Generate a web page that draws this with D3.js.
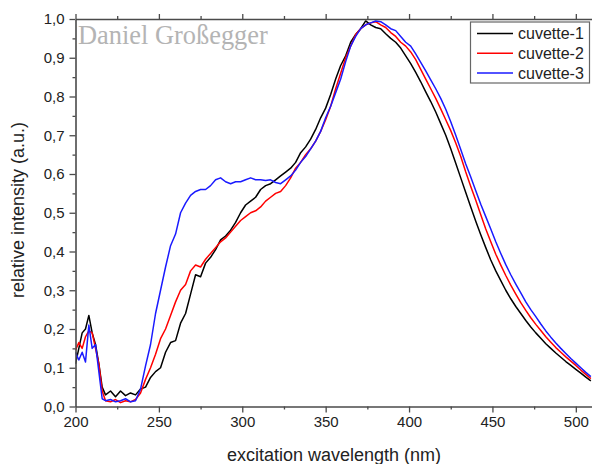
<!DOCTYPE html>
<html>
<head>
<meta charset="utf-8">
<script src="https://cdn.jsdelivr.net/npm/d3@7"></script>
<style>
  html, body { margin: 0; padding: 0; background: #fff; }
  svg { display: block; }
</style>
</head>
<body>
<svg id="chart" width="592" height="464"></svg>
<script>
// Excitation wavelength grid (nm)
const wavelengths = [200,202,204,206,208,210,212,214,216,218,
  221,224,227,230,233,236,239,242,245,248,251,254,257,260,263,266,269,272,275,278,
  281,284,287,290,293,296,299,302,305,308,311,314,317,320,323,326,329,332,335,338,
  341,344,347,350,353,356,359,362,365,368,371,374,377,380,383,386,389,392,395,398,
  401,404,407,410,413,416,419,422,425,428,431,434,437,440,443,446,449,452,455,458,
  461,464,467,470,473,476,479,482,485,488,491,494,497,500,503,506,509];

// Relative intensity per cuvette
const cuvette1 = [0.110,0.150,0.190,0.200,0.235,0.190,0.160,0.110,0.050,0.030,
  0.040,0.025,0.040,0.028,0.035,0.030,0.045,0.050,0.075,0.090,0.100,0.140,0.165,0.170,0.215,0.240,0.290,0.340,0.335,0.370,
  0.385,0.405,0.430,0.440,0.455,0.475,0.500,0.520,0.530,0.540,0.560,0.570,0.575,0.585,0.595,0.605,0.615,0.630,0.655,0.670,
  0.690,0.715,0.745,0.770,0.805,0.845,0.880,0.905,0.940,0.960,0.975,0.995,0.985,0.978,0.975,0.962,0.950,0.940,0.925,0.905,
  0.885,0.862,0.838,0.812,0.787,0.760,0.730,0.700,0.665,0.628,0.590,0.552,0.515,0.478,0.443,0.410,0.378,0.350,0.325,0.300,
  0.278,0.258,0.240,0.222,0.205,0.190,0.176,0.162,0.150,0.138,0.127,0.116,0.106,0.096,0.086,0.076,0.066];

const cuvette2 = [0.145,0.165,0.150,0.180,0.195,0.190,0.150,0.110,0.040,0.015,
  0.012,0.018,0.010,0.015,0.012,0.018,0.035,0.070,0.100,0.135,0.175,0.200,0.235,0.270,0.300,0.315,0.350,0.365,0.360,0.380,
  0.395,0.410,0.425,0.435,0.450,0.465,0.480,0.490,0.500,0.505,0.515,0.530,0.540,0.550,0.555,0.570,0.590,0.615,0.630,0.650,
  0.665,0.685,0.710,0.740,0.775,0.820,0.860,0.900,0.930,0.960,0.975,0.985,0.990,0.993,0.985,0.978,0.965,0.955,0.940,0.930,
  0.915,0.895,0.870,0.845,0.820,0.795,0.768,0.740,0.712,0.680,0.645,0.605,0.568,0.532,0.495,0.458,0.425,0.393,0.365,0.338,
  0.313,0.290,0.268,0.248,0.229,0.212,0.196,0.180,0.166,0.152,0.140,0.128,0.117,0.106,0.094,0.083,0.072];

const cuvette3 = [0.140,0.120,0.140,0.115,0.210,0.150,0.160,0.090,0.020,0.015,
  0.018,0.012,0.015,0.020,0.012,0.015,0.045,0.105,0.160,0.240,0.300,0.360,0.415,0.445,0.500,0.525,0.545,0.555,0.560,0.560,
  0.570,0.585,0.590,0.580,0.575,0.580,0.580,0.585,0.590,0.585,0.585,0.583,0.585,0.578,0.575,0.585,0.595,0.610,0.630,0.645,
  0.665,0.685,0.710,0.745,0.775,0.810,0.845,0.890,0.930,0.955,0.975,0.985,0.990,0.995,0.993,0.985,0.975,0.970,0.955,0.940,
  0.930,0.910,0.888,0.866,0.843,0.820,0.795,0.767,0.735,0.700,0.663,0.626,0.592,0.557,0.522,0.490,0.458,0.425,0.395,0.366,
  0.340,0.316,0.293,0.270,0.250,0.232,0.213,0.195,0.179,0.164,0.150,0.137,0.124,0.112,0.100,0.088,0.077];

const seriesNames = ["cuvette-1", "cuvette-2", "cuvette-3"];
const seriesColors = ["#000000", "#ff0000", "#1a1aff"];
const seriesValues = [cuvette1, cuvette2, cuvette3];

const xTicks = [200, 250, 300, 350, 400, 450, 500];
const yTicks = [0, 0.1, 0.2, 0.3, 0.4, 0.5, 0.6, 0.7, 0.8, 0.9, 1.0];

const svg = d3.select("#chart");
const plotLeft = 75.5, plotRight = 592.5, plotTop = 19, plotBottom = 406.5;

const x = d3.scaleLinear().domain([200, 510]).range([plotLeft, plotRight]);
const y = d3.scaleLinear().domain([0, 1]).range([plotBottom, plotTop]);

const axisColor = "#4a4a4a";
const fmt = d3.format(".1f");
const comma = v => fmt(v).replace(".", ",");

svg.append("defs").append("clipPath").attr("id", "plot")
  .append("rect").attr("x", plotLeft).attr("y", plotTop - 2)
  .attr("width", plotRight - plotLeft).attr("height", plotBottom - plotTop + 2);

// Series lines
const line = d3.line()
  .x((d, i) => x(wavelengths[i]))
  .y(d => y(d));

seriesValues.forEach((vals, k) => {
  svg.append("path")
    .datum(vals)
    .attr("clip-path", "url(#plot)")
    .attr("fill", "none")
    .attr("stroke", seriesColors[k])
    .attr("stroke-width", 1.5)
    .attr("stroke-linejoin", "round")
    .attr("d", line);
});

// Watermark
svg.append("text")
  .attr("x", 78).attr("y", 44)
  .attr("font-family", "Liberation Serif, serif")
  .attr("font-size", 26.4)
  .attr("fill", "#b4b4b4")
  .text("Daniel Großegger");

function styleAxis(g) {
  g.selectAll("path.domain").attr("stroke", axisColor).attr("stroke-width", 1.6);
  g.selectAll(".tick line").attr("stroke", axisColor).attr("stroke-width", 1.3);
  g.selectAll(".tick text")
    .attr("font-family", "Liberation Sans, Arial, sans-serif")
    .attr("font-size", 15)
    .attr("fill", "#222");
}
function styleMinor(g) {
  g.select(".domain").remove();
  g.selectAll("line").attr("stroke", axisColor).attr("stroke-width", 1.3);
}

const xMinor = d3.range(225, 510, 50);
const yMinor = d3.range(0.05, 1, 0.1);

// Bottom axis
const gx = svg.append("g").attr("transform", `translate(0,${plotBottom})`)
  .call(d3.axisBottom(x).tickValues(xTicks).tickFormat(d3.format("d")).tickSize(6).tickSizeOuter(0).tickPadding(4));
styleAxis(gx);
svg.append("g").attr("transform", `translate(0,${plotBottom})`)
  .call(d3.axisBottom(x).tickValues(xMinor).tickFormat("").tickSize(3).tickSizeOuter(0))
  .call(styleMinor);

// Top axis
const gt = svg.append("g").attr("transform", `translate(0,${plotTop})`)
  .call(d3.axisTop(x).tickValues(xTicks).tickFormat("").tickSize(5).tickSizeOuter(0));
styleAxis(gt);
svg.append("g").attr("transform", `translate(0,${plotTop})`)
  .call(d3.axisTop(x).tickValues(xMinor).tickFormat("").tickSize(3).tickSizeOuter(0))
  .call(styleMinor);

// Left axis
const gy = svg.append("g").attr("transform", `translate(${plotLeft},0)`)
  .call(d3.axisLeft(y).tickValues(yTicks).tickFormat(comma).tickSize(6).tickSizeOuter(0).tickPadding(5));
styleAxis(gy);
svg.append("g").attr("transform", `translate(${plotLeft},0)`)
  .call(d3.axisLeft(y).tickValues(yMinor).tickFormat("").tickSize(3).tickSizeOuter(0))
  .call(styleMinor);

// Axis titles
svg.append("text")
  .attr("x", 334).attr("y", 461)
  .attr("text-anchor", "middle")
  .attr("font-family", "Liberation Sans, Arial, sans-serif")
  .attr("font-size", 18)
  .attr("fill", "#222")
  .text("excitation wavelength (nm)");

svg.append("text")
  .attr("transform", "translate(24,210) rotate(-90)")
  .attr("text-anchor", "middle")
  .attr("font-family", "Liberation Sans, Arial, sans-serif")
  .attr("font-size", 18)
  .attr("fill", "#222")
  .text("relative intensity (a.u.)");

// Legend
const legend = svg.append("g");
legend.append("rect")
  .attr("x", 470.5).attr("y", 22).attr("width", 119).attr("height", 61)
  .attr("fill", "#fff").attr("stroke", "#666").attr("stroke-width", 1.2);
seriesNames.forEach((name, k) => {
  const cy = 33.5 + k * 19.8;
  legend.append("line")
    .attr("x1", 477).attr("x2", 513).attr("y1", cy).attr("y2", cy)
    .attr("stroke", seriesColors[k]).attr("stroke-width", 1.5);
  legend.append("text")
    .attr("x", 518).attr("y", cy + 5.5)
    .attr("font-family", "Liberation Sans, Arial, sans-serif")
    .attr("font-size", 16)
    .attr("fill", "#222")
    .text(name);
});
</script>
</body>
</html>
